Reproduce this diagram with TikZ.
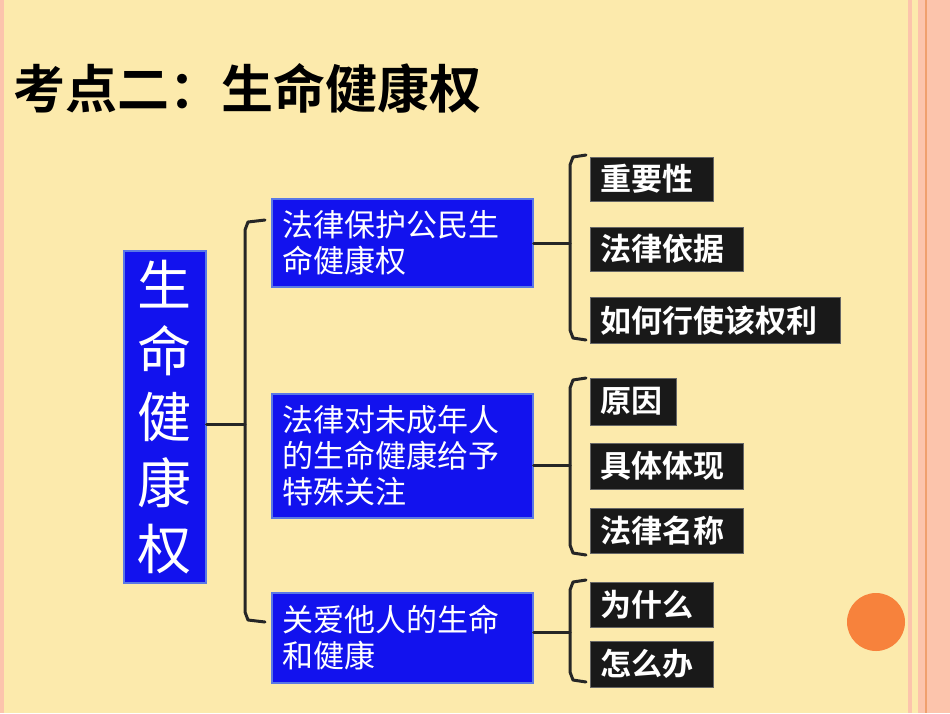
\documentclass[tikz,border=0pt]{standalone}
\usepackage{fontspec}
\setmainfont{Noto Sans CJK SC}
\newfontfamily\cjkb{Noto Sans CJK SC Bold}
\definecolor{bg}{RGB}{252,234,172}
\definecolor{pinkst}{RGB}{252,196,172}
\definecolor{orst}{RGB}{240,160,110}
\definecolor{bluebox}{RGB}{18,18,238}
\definecolor{blueedge}{RGB}{90,120,230}
\definecolor{circ}{RGB}{247,130,60}
\begin{document}
\begin{tikzpicture}[x=1pt,y=-1pt,
  mid/.style={draw=blueedge,line width=1.5pt,fill=bluebox,text=white,inner sep=0pt,font=\fontsize{31}{36}\selectfont,align=left,minimum width=261pt,anchor=north west},
  leaf/.style={fill=black!90,draw=black!60,text=white,inner sep=0pt,font=\cjkb\fontsize{31}{32}\selectfont,anchor=north west},
  brk/.style={line width=3pt,draw=black!85,line cap=round,line join=round}]
\fill[bg] (0,0) rectangle (950,713);
\fill[pinkst] (908,0) rectangle (950,713);
\fill[bg] (912,0) rectangle (918,713);
\fill[orst] (925,0) rectangle (927,713);
\fill[pinkst] (0,0) rectangle (4,713);
\node[anchor=west,font=\cjkb\fontsize{52}{52}\selectfont] (title) at (10,88) {考点二：生命健康权};
\node[draw=blueedge,line width=1.5pt,fill=bluebox,text=white,minimum width=82pt,minimum height=332pt,anchor=north west,inner sep=0pt,align=center,font=\fontsize{54}{66}\selectfont] (main) at (123,250) {生\\命\\健\\康\\权};
\node[mid] (m1) at (271,198) {\parbox[c][88pt][c]{261pt}{\hspace*{11pt}法律保护公民生\\\hspace*{11pt}命健康权}};
\node[mid] (m2) at (271,393) {\parbox[c][124pt][c]{261pt}{\hspace*{11pt}法律对未成年人\\\hspace*{11pt}的生命健康给予\\\hspace*{11pt}特殊关注}};
\node[mid] (m3) at (271,592) {\parbox[c][90pt][c]{261pt}{\hspace*{11pt}关爱他人的生命\\\hspace*{11pt}和健康}};
\node[leaf] (a1) at (590,157) {\parbox[c][44pt][c]{123pt}{\hspace*{10pt}重要性}};
\node[leaf] (a2) at (590,227) {\parbox[c][44pt][c]{153pt}{\hspace*{10pt}法律依据}};
\node[leaf] (a3) at (590,297) {\parbox[c][46pt][c]{250pt}{\hspace*{10pt}如何行使该权利}};
\node[leaf] (b1) at (590,378) {\parbox[c][47pt][c]{86pt}{\hspace*{10pt}原因}};
\node[leaf] (b2) at (590,443) {\parbox[c][46pt][c]{153pt}{\hspace*{10pt}具体体现}};
\node[leaf] (b3) at (590,508) {\parbox[c][45pt][c]{153pt}{\hspace*{10pt}法律名称}};
\node[leaf] (c1) at (590,582) {\parbox[c][45pt][c]{123pt}{\hspace*{10pt}为什么}};
\node[leaf] (c2) at (590,641) {\parbox[c][46pt][c]{123pt}{\hspace*{10pt}怎么办}};
\coordinate (L) at (245,424);
\draw[brk] (main.east |- L) -- (L);
\draw[brk] (265,220) -- (248,222) -- (245,230) -- (245,612) -- (248,620) -- (265,622);
\coordinate (R1) at (570,243);
\draw[brk] (m1.east |- R1) -- (R1);
\draw[brk] (586,155) -- (573,157) -- (570,165) -- (570,330) -- (573,338) -- (586,340);
\coordinate (R2) at (570,465);
\draw[brk] (m2.east |- R2) -- (R2);
\draw[brk] (586,378) -- (573,380) -- (570,388) -- (570,545) -- (573,553) -- (586,555);
\coordinate (R3) at (570,632);
\draw[brk] (m3.east |- R3) -- (R3);
\draw[brk] (586,580) -- (573,582) -- (570,590) -- (570,672) -- (573,680) -- (586,682);
\fill[circ] (876,622) circle (29) node (dot) {};
\end{tikzpicture}
\end{document}
